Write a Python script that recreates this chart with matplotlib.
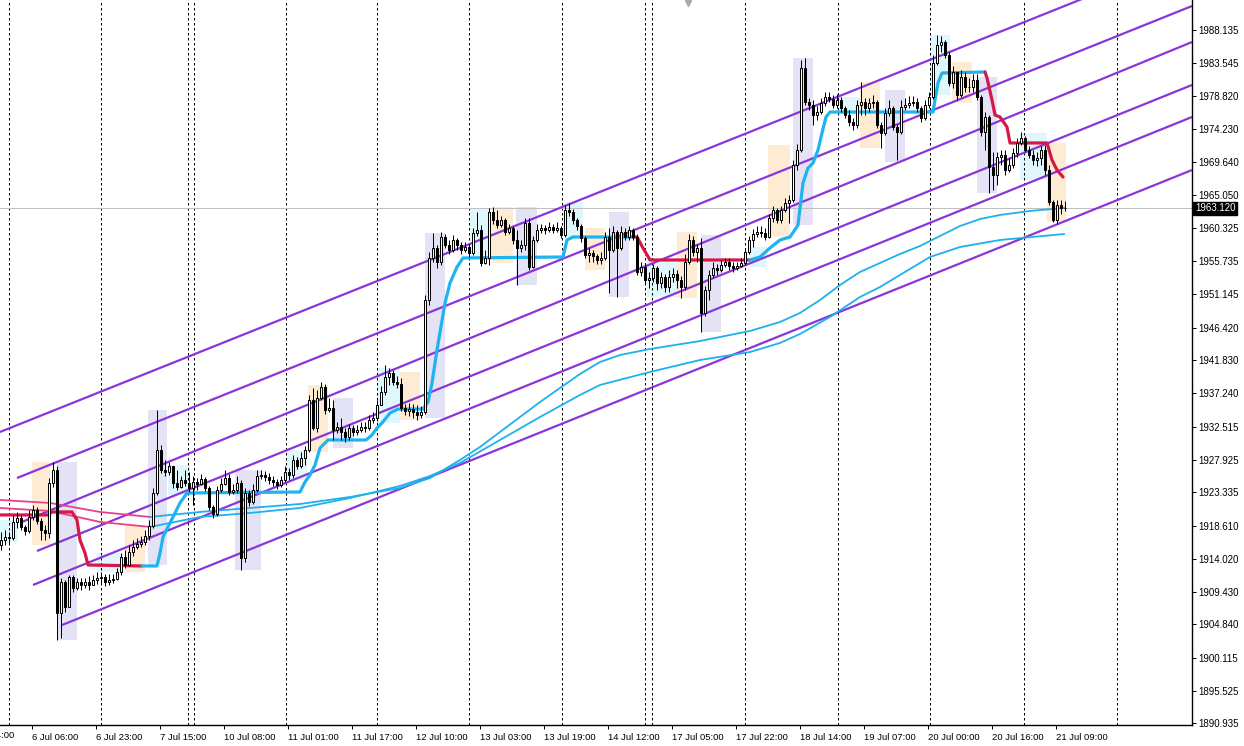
import matplotlib
matplotlib.use("Agg")
import matplotlib.pyplot as plt
import matplotlib.transforms as mtransforms
from matplotlib.patches import Rectangle

# ---------------- data (H1 XAUUSD, bar index 0 = 6 Jul 00:00) ----------------
first_index = -2
first_open = 1915.95
closes = [
    1916.65, 1917.07, 1916.93, 1919.18, 1919.74, 1918.48, 1917.92, 1919.88, 1920.86, 1919.32,
    1918.04, 1917.63, 1924.64, 1926.46, 1906.42, 1910.77, 1907.26, 1911.47, 1909.93, 1910.77,
    1910.34, 1910.77, 1910.34, 1911.05, 1911.33, 1911.47, 1910.77, 1911.05, 1911.19, 1912.17,
    1914.27, 1913.15, 1914.97, 1915.67, 1916.09, 1916.37, 1917.21, 1918.62, 1923.24, 1929.27,
    1926.46, 1926.18, 1927.03, 1924.64, 1924.08, 1925.06, 1924.64, 1923.94, 1924.78, 1924.50,
    1925.20, 1923.94, 1921.28, 1920.30, 1923.66, 1924.50, 1925.34, 1923.38, 1923.66, 1924.64,
    1914.13, 1923.24, 1921.98, 1923.66, 1925.62, 1925.76, 1925.48, 1925.06, 1924.78, 1924.36,
    1925.06, 1926.18, 1925.76, 1927.87, 1927.03, 1928.15, 1929.27, 1936.28, 1932.35, 1936.56,
    1938.10, 1934.87, 1935.15, 1932.07, 1932.49, 1931.79, 1931.09, 1932.35, 1931.79, 1932.07,
    1932.49, 1932.35, 1933.47, 1933.75, 1935.58, 1937.40, 1939.50, 1940.06, 1938.80, 1938.52,
    1935.15, 1934.73, 1935.01, 1934.59, 1934.17, 1934.59, 1950.29, 1956.18, 1957.58, 1955.62,
    1959.12, 1958.00, 1957.30, 1958.70, 1958.00, 1957.30, 1957.72, 1956.88, 1959.68, 1960.10,
    1955.48, 1956.18, 1962.63, 1961.50, 1960.80, 1961.50, 1959.82, 1960.38, 1958.70, 1957.58,
    1958.00, 1961.08, 1954.92, 1958.70, 1960.10, 1960.38, 1960.10, 1960.52, 1960.10, 1960.38,
    1959.40, 1962.91, 1962.63, 1961.50, 1960.66, 1958.98, 1956.60, 1956.88, 1956.46, 1955.90,
    1956.18, 1959.12, 1957.30, 1959.82, 1957.58, 1959.82, 1959.12, 1960.10, 1959.12, 1954.22,
    1954.92, 1953.10, 1953.38, 1954.78, 1952.67, 1953.52, 1952.11, 1953.52, 1953.94, 1953.10,
    1952.11, 1955.62, 1958.70, 1957.02, 1957.58, 1948.47, 1951.69, 1953.80, 1954.78, 1954.50,
    1955.20, 1955.62, 1955.06, 1954.78, 1955.06, 1955.48, 1957.02, 1958.70, 1959.54, 1959.82,
    1959.68, 1959.12, 1961.79, 1962.91, 1961.50, 1962.91, 1963.89, 1964.31, 1969.21, 1971.32,
    1982.81, 1978.04, 1977.62, 1976.22, 1976.64, 1977.90, 1978.74, 1978.46, 1977.62, 1978.32,
    1977.20, 1976.22, 1975.24, 1974.82, 1977.62, 1978.04, 1977.20, 1977.90, 1978.04, 1974.82,
    1973.70, 1976.50, 1977.20, 1974.54, 1973.84, 1977.34, 1977.62, 1977.90, 1978.04, 1977.20,
    1975.80, 1977.62, 1978.74, 1983.51, 1986.03, 1986.45, 1984.63, 1980.71, 1982.25, 1979.02,
    1981.55, 1980.15, 1980.15, 1981.13, 1978.74, 1973.84, 1975.94, 1968.93, 1967.81, 1970.33,
    1970.62, 1968.51, 1969.21, 1970.90, 1972.30, 1973.00, 1971.32, 1970.62, 1969.91, 1970.19,
    1971.32, 1968.51, 1964.03, 1961.50, 1963.61, 1963.19, 1963.12,
]
highs = [
    1917.77, 1918.04, 1917.77, 1920.16, 1920.58, 1920.16, 1918.76, 1920.86, 1921.56, 1921.28,
    1919.74, 1918.76, 1925.34, 1927.59, 1927.03, 1911.33, 1911.05, 1911.75, 1911.75, 1911.33,
    1911.33, 1911.33, 1911.61, 1911.75, 1912.17, 1912.17, 1911.89, 1911.89, 1911.89, 1912.73,
    1914.83, 1915.25, 1915.95, 1916.65, 1916.93, 1917.21, 1918.04, 1919.46, 1923.94, 1934.87,
    1929.97, 1927.87, 1927.59, 1926.75, 1926.46, 1925.62, 1926.46, 1926.18, 1925.62, 1925.34,
    1925.90, 1925.48, 1924.22, 1921.56, 1924.22, 1925.34, 1926.46, 1925.90, 1924.50, 1925.62,
    1925.06, 1923.94, 1923.66, 1924.50, 1926.46, 1926.46, 1926.32, 1926.04, 1925.62, 1925.20,
    1925.62, 1927.03, 1926.75, 1928.57, 1928.29, 1928.99, 1929.83, 1936.98, 1937.96, 1937.68,
    1938.80, 1938.52, 1936.56, 1936.28, 1933.19, 1933.75, 1932.35, 1932.91, 1932.77, 1932.77,
    1933.19, 1933.19, 1934.17, 1934.59, 1936.28, 1938.24, 1941.18, 1940.76, 1940.48, 1939.64,
    1939.36, 1935.72, 1935.86, 1935.72, 1935.58, 1935.44, 1950.99, 1957.02, 1959.68, 1958.00,
    1959.82, 1959.54, 1958.70, 1959.40, 1958.98, 1958.42, 1958.42, 1958.14, 1960.38, 1962.63,
    1960.80, 1957.30, 1963.19, 1963.33, 1962.91, 1962.07, 1961.79, 1960.94, 1960.66, 1960.10,
    1958.70, 1961.79, 1961.79, 1959.26, 1960.94, 1960.94, 1960.80, 1961.22, 1960.94, 1961.22,
    1960.66, 1963.61, 1963.89, 1963.05, 1961.79, 1960.94, 1959.26, 1957.58, 1957.30, 1956.74,
    1957.02, 1959.82, 1960.38, 1960.66, 1960.10, 1960.66, 1960.38, 1960.66, 1960.38, 1959.54,
    1955.62, 1955.34, 1954.22, 1955.34, 1955.06, 1954.22, 1953.94, 1954.50, 1954.78, 1954.50,
    1953.66, 1956.74, 1959.54, 1959.26, 1958.14, 1958.98, 1952.25, 1954.50, 1955.62, 1955.34,
    1955.90, 1956.18, 1956.18, 1955.62, 1955.62, 1956.18, 1957.58, 1959.26, 1960.24, 1960.66,
    1960.66, 1960.38, 1962.35, 1963.47, 1963.19, 1963.47, 1964.59, 1965.01, 1969.91, 1972.16,
    1983.93, 1984.21, 1978.60, 1978.32, 1977.48, 1978.60, 1979.45, 1979.45, 1979.02, 1979.16,
    1978.74, 1977.48, 1976.92, 1975.80, 1978.32, 1980.85, 1978.60, 1978.60, 1979.02, 1978.32,
    1975.24, 1977.20, 1978.32, 1977.48, 1974.96, 1978.32, 1978.60, 1978.88, 1978.88, 1978.60,
    1977.48, 1978.32, 1979.45, 1984.63, 1987.43, 1987.29, 1986.73, 1985.05, 1983.09, 1982.25,
    1982.53, 1982.25, 1981.41, 1981.97, 1981.97, 1979.02, 1976.64, 1976.22, 1971.04, 1971.04,
    1971.32, 1971.32, 1970.19, 1971.60, 1973.00, 1973.84, 1973.28, 1971.88, 1971.32, 1971.04,
    1971.88, 1972.02, 1969.21, 1964.31, 1964.31, 1964.31, 1964.17,
]
lows = [
    1915.25, 1915.95, 1915.95, 1916.65, 1918.34, 1918.04, 1917.35, 1917.63, 1919.46, 1918.90,
    1916.65, 1916.65, 1916.93, 1924.08, 1902.64, 1902.92, 1906.56, 1907.26, 1909.37, 1909.65,
    1909.65, 1909.93, 1909.65, 1910.34, 1910.49, 1910.49, 1910.21, 1910.34, 1910.63, 1911.05,
    1911.75, 1912.73, 1913.01, 1914.41, 1915.39, 1915.67, 1915.95, 1916.65, 1918.34, 1922.96,
    1926.04, 1925.62, 1925.76, 1923.94, 1923.66, 1923.94, 1924.22, 1923.38, 1921.56, 1923.66,
    1924.50, 1923.52, 1920.86, 1919.74, 1920.02, 1923.38, 1924.36, 1922.96, 1923.10, 1923.24,
    1912.45, 1913.57, 1921.42, 1921.70, 1923.38, 1925.20, 1924.92, 1924.50, 1924.22, 1923.80,
    1924.08, 1924.78, 1925.06, 1925.34, 1926.60, 1926.75, 1927.17, 1928.99, 1932.07, 1931.79,
    1936.28, 1934.31, 1934.59, 1930.67, 1931.65, 1930.67, 1930.39, 1930.67, 1931.23, 1931.37,
    1931.79, 1931.79, 1932.07, 1933.05, 1933.33, 1935.58, 1936.98, 1938.38, 1938.38, 1937.96,
    1934.73, 1934.17, 1934.03, 1933.75, 1933.47, 1933.75, 1934.31, 1949.59, 1955.62, 1954.78,
    1955.20, 1957.58, 1956.74, 1957.02, 1957.30, 1956.74, 1957.02, 1956.32, 1956.60, 1959.26,
    1955.06, 1955.34, 1955.20, 1960.94, 1960.38, 1960.52, 1959.40, 1959.54, 1958.14, 1952.39,
    1957.02, 1957.30, 1954.50, 1954.78, 1958.42, 1959.68, 1959.54, 1959.82, 1959.68, 1959.82,
    1958.98, 1959.12, 1962.07, 1960.94, 1960.10, 1958.42, 1956.18, 1955.62, 1955.62, 1955.34,
    1955.34, 1955.90, 1951.27, 1957.02, 1950.71, 1957.30, 1958.70, 1958.70, 1958.70, 1953.80,
    1953.66, 1952.53, 1951.97, 1952.81, 1951.69, 1951.97, 1951.41, 1951.41, 1952.81, 1951.97,
    1950.57, 1951.69, 1955.34, 1956.46, 1955.62, 1945.81, 1948.05, 1950.29, 1953.38, 1953.80,
    1954.22, 1954.92, 1954.50, 1954.22, 1954.50, 1954.92, 1955.20, 1956.74, 1957.72, 1959.12,
    1959.12, 1958.70, 1958.98, 1961.22, 1961.08, 1961.08, 1962.63, 1961.08, 1964.03, 1968.51,
    1971.04, 1977.62, 1976.92, 1974.82, 1975.52, 1976.36, 1977.48, 1978.04, 1977.20, 1977.20,
    1976.64, 1975.80, 1974.68, 1974.12, 1974.40, 1976.22, 1976.22, 1976.64, 1977.20, 1974.40,
    1971.60, 1973.42, 1976.08, 1974.12, 1969.91, 1973.56, 1976.92, 1977.20, 1977.48, 1976.64,
    1975.24, 1975.52, 1977.20, 1978.46, 1983.23, 1985.05, 1984.21, 1980.29, 1980.01, 1978.32,
    1978.74, 1979.45, 1979.45, 1979.45, 1978.32, 1973.28, 1971.32, 1965.29, 1965.71, 1966.41,
    1969.21, 1967.81, 1968.23, 1968.79, 1970.33, 1972.02, 1971.04, 1970.19, 1969.21, 1969.07,
    1969.21, 1967.81, 1963.61, 1961.22, 1960.94, 1962.35, 1962.77,
]

# moving averages (bar index, price) -- pink while falling, sky blue while rising
ma_fast_pink_x = [-2.25, 10.25, 22.75, 35.25]
ma_fast_pink_y = [1922.26, 1921.84, 1920.58, 1919.88]
ma_fast_blue_x = [35.25, 47.75, 60.25, 72.75, 85.25, 97.75, 105.25, 112.75, 117.75, 122.75, 127.75,
                  132.75, 137.75, 142.75, 147.75, 152.75, 160.25, 172.75, 185.25, 192.75, 197.75, 202.75,
                  207.75, 212.75, 217.75, 222.75, 227.75, 232.75, 237.75, 242.75, 247.75, 255.25, 263.75]
ma_fast_blue_y = [1919.88, 1920.58, 1921.14, 1921.70, 1922.68, 1923.94, 1925.34, 1927.87, 1929.69, 1931.79,
                  1933.89, 1935.99, 1937.96, 1939.92, 1941.60, 1942.58, 1943.42, 1944.54, 1945.95, 1947.21,
                  1948.47, 1950.29, 1952.39, 1954.22, 1955.48, 1956.74, 1957.86, 1959.26, 1960.66, 1961.64,
                  1962.21, 1962.77, 1963.19]
ma_slow_pink_x = [-2.25, 10.25, 22.75, 35.25]
ma_slow_pink_y = [1921.14, 1920.72, 1919.18, 1918.48]
ma_slow_blue_x = [35.25, 47.75, 60.25, 72.75, 85.25, 97.75, 105.25, 112.75, 122.75, 132.75, 142.75,
                  147.75, 160.25, 172.75, 185.25, 192.75, 197.75, 205.25, 212.75, 217.75, 222.75, 230.25,
                  237.75, 247.75, 263.75]
ma_slow_blue_y = [1918.48, 1919.88, 1920.44, 1921.14, 1922.54, 1924.22, 1925.62, 1927.45, 1930.67, 1933.89,
                  1936.98, 1938.38, 1940.20, 1941.88, 1943.00, 1944.27, 1945.53, 1947.91, 1950.71, 1952.11,
                  1953.80, 1956.32, 1957.72, 1958.70, 1959.54]

# trailing stop line segments: (state, bar index list, price list)
trail_segments = [
    ("down", [-2.25, 9.75, 10.75, 15.75, 17.0, 17.75, 19.0, 19.75, 33.25],
             [1920.16, 1920.16, 1920.58, 1920.58, 1919.46, 1916.65, 1914.83, 1913.15, 1913.01]),
    ("up", [33.25, 37.0, 37.75, 38.5, 40.25, 42.75, 44.5, 72.75, 74.0, 75.25, 76.5, 77.75, 79.0, 79.75,
            89.25, 90.75, 92.0, 93.25, 95.25, 97.25, 103.5, 104.75, 105.75, 107.0, 109.0, 110.25, 112.0,
            113.5, 138.5, 139.5, 141.0, 156.0],
           [1913.01, 1913.01, 1914.83, 1917.07, 1919.04, 1921.84, 1923.24, 1923.38, 1924.78, 1925.76,
            1927.16, 1929.54, 1930.25, 1930.67, 1930.67, 1931.37, 1932.35, 1933.05, 1934.45, 1935.01,
            1935.01, 1935.99, 1938.65, 1943.28, 1949.87, 1952.67, 1954.92, 1956.18, 1956.32, 1958.70,
            1959.12, 1959.12]),
    ("down", [156.0, 157.0, 158.5, 160.25, 185.25],
             [1959.12, 1959.12, 1957.58, 1955.90, 1955.90]),
    ("up", [185.25, 187.75, 190.25, 192.75, 195.25, 197.25, 198.5, 199.75, 201.0, 202.25, 203.25, 204.25,
            205.25, 231.0, 231.5, 232.25, 233.25, 244.0],
           [1955.90, 1956.32, 1957.58, 1958.70, 1959.12, 1960.80, 1966.69, 1968.79, 1969.49, 1971.32,
            1973.70, 1975.94, 1976.64, 1976.64, 1978.32, 1980.71, 1982.11, 1982.25]),
    ("down", [244.0, 244.5, 245.75, 246.5, 247.75, 249.5, 250.25, 259.5, 260.75, 262.0, 263.5],
             [1982.25, 1981.41, 1978.32, 1976.22, 1975.94, 1974.54, 1972.30, 1972.30, 1969.91, 1968.51,
              1967.53]),
]

# channel lines: start (bar, price) -> end (bar, price)
channel_x0 = [-2.25, 2.0, 3.25, 7.0, 6.0, 13.25]
channel_y0 = [1931.79, 1925.34, 1919.18, 1915.11, 1910.35, 1904.73]
channel_x1 = [295.75, 295.75, 295.75, 295.75, 295.75, 295.75]
channel_y1 = [1998.65, 1991.50, 1986.45, 1980.43, 1975.94, 1968.51]

# highlight zones: (bar from, bar to, price top, price bottom)
zones_lavender = [
    (12.0, 17.0, 1927.59, 1902.64), (34.75, 39.5, 1934.87, 1913.15), (56.5, 63.0, 1926.47, 1912.45),
    (81.0, 86.0, 1936.56, 1929.55), (104.0, 109.0, 1959.68, 1933.75), (126.75, 132.0, 1963.33, 1952.39),
    (150.0, 155.0, 1962.63, 1950.71), (173.0, 178.0, 1959.40, 1945.81), (196.0, 201.0, 1984.21, 1960.80),
    (219.0, 224.0, 1979.73, 1969.63), (242.0, 247.0, 1981.55, 1965.29),
]
zones_peach = [
    (5.75, 10.25, 1927.59, 1915.95), (29.0, 34.0, 1918.76, 1912.17), (74.75, 79.75, 1938.38, 1928.99),
    (97.75, 102.75, 1940.20, 1933.47), (120.75, 126.0, 1963.33, 1955.48), (144.0, 149.0, 1960.38, 1954.50),
    (167.0, 172.0, 1959.82, 1950.57), (189.75, 195.25, 1972.02, 1959.12), (212.75, 217.75, 1980.85, 1971.60),
    (235.75, 240.75, 1983.65, 1977.90), (259.5, 264.25, 1972.30, 1961.23),
]
zones_cyan = [
    (-2.25, 2.25, 1919.46, 1916.37), (22.0, 28.5, 1914.83, 1912.17), (39.75, 45.25, 1927.17, 1922.96),
    (69.5, 74.5, 1929.27, 1925.06), (92.0, 97.75, 1940.76, 1933.05), (115.25, 120.75, 1963.19, 1956.18),
    (138.5, 143.5, 1964.03, 1959.12), (159.5, 167.0, 1955.90, 1950.71), (185.25, 189.5, 1957.72, 1954.92),
    (207.0, 212.75, 1978.74, 1976.22), (230.25, 235.25, 1987.43, 1979.02), (252.75, 259.5, 1973.70, 1967.11),
]

day_separators = [0, 23, 44.75, 46.25, 69.25, 92, 115, 138.25, 159, 160.75, 184, 207.25, 230.25, 253.75, 277]

x_labels = ["5 Jul 14:00", "6 Jul 06:00", "6 Jul 23:00", "7 Jul 15:00", "10 Jul 08:00", "11 Jul 01:00",
            "11 Jul 17:00", "12 Jul 10:00", "13 Jul 03:00", "13 Jul 19:00", "14 Jul 12:00",
            "17 Jul 05:00", "17 Jul 22:00", "18 Jul 14:00", "19 Jul 07:00", "20 Jul 00:00",
            "20 Jul 16:00", "21 Jul 09:00"]
x_label_first = -10.25
x_label_step = 16

y_ticks = [1988.135, 1983.545, 1978.820, 1974.230, 1969.640, 1965.050, 1960.325, 1955.735, 1951.145,
           1946.420, 1941.830, 1937.240, 1932.515, 1927.925, 1923.335, 1918.610, 1914.020, 1909.430,
           1904.840, 1900.115, 1895.525, 1890.935]
last_price = 1963.12
chart_shift_bar = 169.75

# ---------------- figure ----------------
plt.rcParams["font.family"] = ["Liberation Sans", "DejaVu Sans"]
W, H = 1244, 746
fig = plt.figure(figsize=(W / 100, H / 100), dpi=100)
fig.patch.set_facecolor("white")
ax_left, ax_right, ax_bottom, ax_top = 0, 1192, 21, 746
ax = fig.add_axes([ax_left / W, ax_bottom / H, (ax_right - ax_left) / W, (ax_top - ax_bottom) / H])
ax.set_facecolor("white")

px = 0.72  # one pixel in points
fs = 7.0

# zones
for zlist, col in ((zones_lavender, "#E3E3F5"), (zones_peach, "#FDEBD4"), (zones_cyan, "#DFF7FA")):
    for x0, x1, top, bot in zlist:
        ax.add_patch(Rectangle((x0, bot), x1 - x0, top - bot, facecolor=col, edgecolor="none", zorder=0.5))

# day separators
for d in day_separators:
    ax.axvline(d, color="black", lw=px, linestyle=(0, (2.5, 2.5)), zorder=1)

# last price line
ax.axhline(last_price, color="#C0C0C0", lw=px, zorder=1)

# channel
for x0, y0, x1, y1 in zip(channel_x0, channel_y0, channel_x1, channel_y1):
    ax.plot([x0, x1], [y0, y1], color="#8A35DA", lw=1.6, solid_capstyle="butt", zorder=2)

# moving averages
ax.plot(ma_fast_pink_x, ma_fast_pink_y, color="#E8418A", lw=1.3, zorder=3)
ax.plot(ma_slow_pink_x, ma_slow_pink_y, color="#E8418A", lw=1.3, zorder=3)
ax.plot(ma_fast_blue_x, ma_fast_blue_y, color="#1DB1EE", lw=1.3, zorder=3)
ax.plot(ma_slow_blue_x, ma_slow_blue_y, color="#1DB1EE", lw=1.3, zorder=3)

# trailing line
for state, xs, ys in trail_segments:
    ax.plot(xs, ys, color="#1DB4F0" if state == "up" else "#D4194A", lw=2.3,
            solid_joinstyle="round", solid_capstyle="round", zorder=4)

# candles
opens = [first_open] + closes[:-1]
for k, (o, h, l, c) in enumerate(zip(opens, highs, lows, closes)):
    i = first_index + k
    ax.vlines(i, l, h, color="black", lw=px, zorder=5)
    bull = c >= o
    ax.bar(i, abs(c - o) if abs(c - o) > 0.02 else 0.0, bottom=min(o, c), width=0.5,
           color="white" if bull else "black", edgecolor="black", linewidth=px, zorder=6)

# axes styling
for s in ("top", "left"):
    ax.spines[s].set_visible(False)
for s in ("right", "bottom"):
    ax.spines[s].set_linewidth(1.0)
    ax.spines[s].set_color("black")

ax.yaxis.tick_right()
ax.set_yticks(y_ticks)
ax.set_yticklabels([f"{v:.3f}" for v in y_ticks])
ax.tick_params(axis="y", direction="out", length=3, width=px, pad=1.5, labelsize=fs, colors="black")

xt = [x_label_first + x_label_step * k for k in range(len(x_labels))]
ax.set_xticks(xt)
ax.set_xticklabels(x_labels)
ax.tick_params(axis="x", direction="out", length=3, width=px, pad=3, labelsize=6.8, colors="black")
for lbl in ax.get_xticklabels():
    lbl.set_horizontalalignment("left")

# limits set after ticks so that the ticks cannot widen the view
ax.set_xlim(-2.25, 295.75)
ax.set_ylim(1890.72, 1992.34)

# the partly hidden first time label at the left edge
xtrans = mtransforms.blended_transform_factory(ax.transData, ax.transAxes)
ax.text(xt[0], -5.5 / 725, x_labels[0], transform=xtrans, ha="left", va="top", fontsize=6.8,
        color="black", clip_on=False)

# chart shift marker
ax.plot([chart_shift_bar], [1991.9], marker="v", color="#A8A8A8", markersize=5, clip_on=False, zorder=7)

# last price tag
trans = mtransforms.blended_transform_factory(ax.transAxes, ax.transData)
ax.text(1.0 + 3 / 1192, last_price, f"{last_price:.3f}", transform=trans, ha="left", va="center",
        fontsize=fs, color="white", zorder=10, clip_on=False,
        bbox=dict(boxstyle="square,pad=0.2", facecolor="black", edgecolor="black"))

fig.savefig("out.png", dpi=100, facecolor="white")
